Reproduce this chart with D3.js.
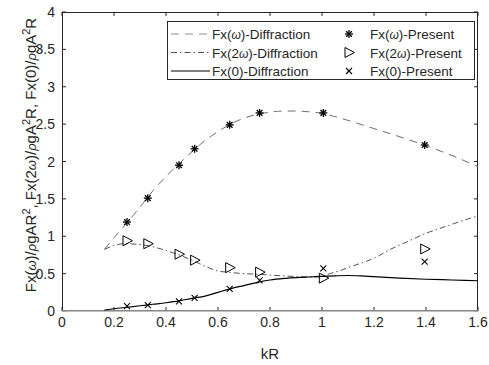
<!DOCTYPE html>
<html><head><meta charset="utf-8">
<script src="https://cdn.jsdelivr.net/npm/d3@7"></script>
<style>body{margin:0;background:#fff}svg{display:block}text{font-family:"Liberation Sans",Arial,sans-serif;fill:#262626}</style>
</head><body><svg id="c" width="489" height="365"></svg>
<script>
// ---- data ----
const kRw = [0.163,0.2,0.25,0.3,0.35,0.4,0.45,0.5,0.55,0.6,0.65,0.7,0.75,0.8,0.85,0.9,0.95,1.0,1.05,1.1,1.2,1.3,1.4,1.5,1.6];
const fxW = [0.825,0.98,1.18,1.39,1.61,1.80,1.97,2.13,2.28,2.40,2.505,2.58,2.63,2.66,2.675,2.675,2.665,2.645,2.60,2.55,2.44,2.33,2.21,2.08,1.93];
const kR2w = [0.163,0.2,0.24,0.28,0.32,0.36,0.4,0.45,0.5,0.55,0.6,0.65,0.7,0.76,0.86,0.95,1.0,1.03,1.07,1.1,1.15,1.2,1.26,1.33,1.4,1.45,1.5,1.55,1.6];
const fx2W = [0.825,0.875,0.9,0.895,0.88,0.85,0.81,0.75,0.68,0.6,0.535,0.515,0.5,0.49,0.468,0.455,0.46,0.5,0.54,0.58,0.64,0.705,0.82,0.93,1.04,1.1,1.16,1.22,1.27];
const kR0 = [0.163,0.2,0.25,0.3,0.35,0.4,0.45,0.5,0.55,0.6,0.65,0.7,0.76,0.8,0.86,0.9,0.95,1.0,1.05,1.1,1.15,1.2,1.3,1.4,1.5,1.6];
const fx0 = [0.013,0.03,0.05,0.07,0.09,0.11,0.135,0.17,0.2,0.25,0.3,0.34,0.39,0.415,0.437,0.447,0.455,0.462,0.47,0.475,0.47,0.46,0.44,0.425,0.415,0.405];
const kRp = [0.25,0.33,0.45,0.51,0.645,0.76,1.005,1.395];
const fxWp = [1.19,1.51,1.95,2.17,2.49,2.65,2.65,2.22];
const fx2Wp = [0.94,0.9,0.76,0.68,0.58,0.52,0.44,0.83];
const fx0p = [0.065,0.08,0.13,0.175,0.295,0.41,0.57,0.66];
const xTicks = [0,0.2,0.4,0.6,0.8,1,1.2,1.4,1.6];
const yTicks = [0,0.5,1,1.5,2,2.5,3,3.5,4];

const svg = d3.select("#c");
const L=62,R=478,T=12,B=311;
const x = d3.scaleLinear().domain([0,1.6]).range([L,R]);
const y = d3.scaleLinear().domain([0,4]).range([B,T]);

// ticks
const g = svg.append("g");
xTicks.forEach(t=>{
  g.append("line").attr("x1",x(t)).attr("x2",x(t)).attr("y1",B).attr("y2",B-4).attr("stroke","#262626");
  g.append("line").attr("x1",x(t)).attr("x2",x(t)).attr("y1",T).attr("y2",T+4).attr("stroke","#262626");
  g.append("text").attr("x",x(t)).attr("y",B+16).attr("text-anchor","middle").attr("font-size",14).text(d3.format("")(t));
});
yTicks.forEach(t=>{
  g.append("line").attr("x1",L).attr("x2",L+4).attr("y1",y(t)).attr("y2",y(t)).attr("stroke","#262626");
  g.append("line").attr("x1",R).attr("x2",R-4).attr("y1",y(t)).attr("y2",y(t)).attr("stroke","#262626");
  g.append("text").attr("x",L-7).attr("y",y(t)+5).attr("text-anchor","end").attr("font-size",14).text(d3.format("")(t));
});
// frame
svg.append("rect").attr("x",L+0.5).attr("y",T+0.5).attr("width",R-L-1).attr("height",B-T-1).attr("fill","none").attr("stroke","#262626").attr("stroke-width",1);
svg.append("line").attr("x1",L).attr("x2",R).attr("y1",B).attr("y2",B).attr("stroke","#aaa").attr("stroke-width",1.5);

const line = d3.line().x(d=>x(d[0])).y(d=>y(d[1])).curve(d3.curveMonotoneX);
const plot = svg.append("g");
plot.append("path").attr("d",line(d3.zip(kRw,fxW))).attr("fill","none").attr("stroke","#707070").attr("stroke-dasharray","8,6");
plot.append("path").attr("d",line(d3.zip(kR2w,fx2W))).attr("fill","none").attr("stroke","#555").attr("stroke-dasharray","6,3,1.5,3");
plot.append("path").attr("d",line(d3.zip(kR0,fx0))).attr("fill","none").attr("stroke","#000").attr("stroke-width",1.2);

function star(gp,cx,cy){
  const r=4;
  for(let a=0;a<4;a++){const th=a*Math.PI/4;
    gp.append("line").attr("x1",cx-r*Math.cos(th)).attr("y1",cy-r*Math.sin(th)).attr("x2",cx+r*Math.cos(th)).attr("y2",cy+r*Math.sin(th)).attr("stroke","#000").attr("stroke-width",1.3);}
}
function tri(gp,cx,cy){
  const s=5;
  gp.append("path").attr("d",`M${cx-s*0.8},${cy-s}L${cx+s*1.1},${cy}L${cx-s*0.8},${cy+s}Z`).attr("fill","none").attr("stroke","#000").attr("stroke-width",1);
}
function cross(gp,cx,cy){
  const r=3;
  gp.append("path").attr("d",`M${cx-r},${cy-r}L${cx+r},${cy+r}M${cx-r},${cy+r}L${cx+r},${cy-r}`).attr("stroke","#000").attr("stroke-width",1.1);
}
kRp.forEach((k,i)=>{star(plot,x(k),y(fxWp[i]));tri(plot,x(k),y(fx2Wp[i]));cross(plot,x(k),y(fx0p[i]));});

// legend
const lg = svg.append("g");
lg.append("rect").attr("x",167.5).attr("y",21.5).attr("width",307).attr("height",58).attr("fill","#fff").attr("stroke","#262626").attr("stroke-width",1);
const rows=[34,52.5,71];
const names1=[["Fx(","ω",")-Diffraction"],["Fx(2","ω",")-Diffraction"],["Fx(0)-Diffraction"]];
const names2=[["Fx(","ω",")-Present"],["Fx(2","ω",")-Present"],["Fx(0)-Present"]];
const styles=[["#909090","8,6",1],["#555","6,3,1.5,3",1],["#000",null,1.2]];
rows.forEach((ry,i)=>{
  const ln=lg.append("line").attr("x1",171).attr("x2",210).attr("y1",ry).attr("y2",ry).attr("stroke",styles[i][0]).attr("stroke-width",styles[i][2]);
  if(styles[i][1]) ln.attr("stroke-dasharray",styles[i][1]);
  [[212,names1[i]],[370,names2[i]]].forEach(([tx,parts])=>{
    const t=lg.append("text").attr("x",tx).attr("y",ry+5).attr("font-size",13.5);
    parts.forEach((p,j)=>{const sp=t.append("tspan").text(p); if(p==="ω") sp.attr("font-style","italic").attr("font-size",12);});
  });
});
star(lg,349,rows[0]);tri(lg,349,rows[1]);cross(lg,349,rows[2]);

// axis labels
svg.append("text").attr("x",(L+R)/2).attr("y",359).attr("text-anchor","middle").attr("font-size",15).text("kR");
const yl=svg.append("text").attr("transform",`translate(36,155) rotate(-90)`).attr("text-anchor","middle").attr("font-size",15);
const parts=[["Fx(",0],["ω",2],[")/",0],["ρ",2],["gAR",0],["2",1],[", Fx(2",0],["ω",2],[")/",0],["ρ",2],["gA",0],["2",1],["R, Fx(0)/",0],["ρ",2],["gA",0],["2",1],["R",0]];
let prevSup=false;
parts.forEach(([p,k])=>{
  const sp=yl.append("tspan").text(p);
  if(k===2) sp.attr("font-style","italic").attr("font-size",13);
  if(k===1) sp.attr("font-size",11).attr("dy",-6);
  if(k!==1 && prevSup) sp.attr("dy",6);
  prevSup = (k===1);
});
</script></body></html>
